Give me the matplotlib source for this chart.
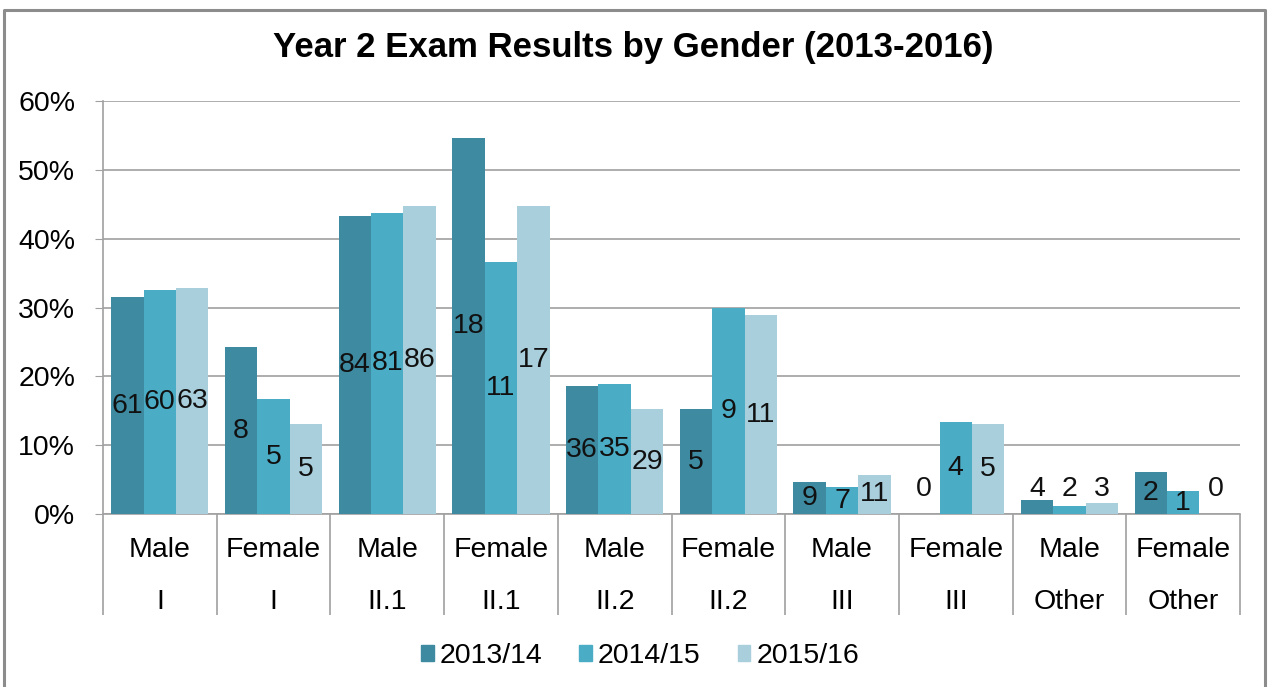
import matplotlib
matplotlib.use("Agg")
import matplotlib.pyplot as plt
import numpy as np
from matplotlib.lines import Line2D

plt.rcParams['font.family'] = ['Liberation Sans', 'DejaVu Sans']

genders = ["Male", "Female", "Male", "Female", "Male", "Female", "Male", "Female", "Male", "Female"]
classes = ["I", "I", "II.1", "II.1", "II.2", "II.2", "III", "III", "Other", "Other"]
years = ["2013/14", "2014/15", "2015/16"]

# percentage of students per class
pct_1314 = [31.5, 24.2, 43.3, 54.6, 18.6, 15.2, 4.7, 0.0, 2.1, 6.1]
pct_1415 = [32.5, 16.7, 43.8, 36.6, 18.9, 30.0, 3.9, 13.3, 1.2, 3.3]
pct_1516 = [32.8, 13.1, 44.8, 44.7, 15.2, 28.9, 5.7, 13.1, 1.6, 0.0]

# student counts shown as data labels
n_1314 = [61, 8, 84, 18, 36, 5, 9, 0, 4, 2]
n_1415 = [60, 5, 81, 11, 35, 9, 7, 4, 2, 1]
n_1516 = [63, 5, 86, 17, 29, 11, 11, 5, 3, 0]

colors = ["#3d8aa1", "#4bacc6", "#a9cfdc"]
grey = "#a0a0a0"
fs = 20.5

fig = plt.figure(figsize=(12.7, 6.87), dpi=100)
ax = fig.add_axes([103 / 1270, 1 - 514 / 687, (1240 - 103) / 1270, (514 - 101) / 687])

x = np.arange(len(genders))
w = 0.285
for i, (pct, cnt) in enumerate(zip([pct_1314, pct_1415, pct_1516], [n_1314, n_1415, n_1516])):
    xs = x + (i - 1) * w
    ax.bar(xs, pct, width=w, color=colors[i], zorder=3, label=years[i])
    for xi, v, n in zip(xs, pct, cnt):
        ly = v / 2 if v / 2 >= 1.5 else 3.7
        ax.text(xi, ly, str(n), ha="center", va="center", fontsize=fs, color="#111111", zorder=4)

ax.set_xlim(-0.5, len(genders) - 0.5)
ax.set_ylim(0, 60)
ax.set_yticks(range(0, 61, 10))
ax.set_yticklabels([f"{t}%" for t in range(0, 61, 10)], fontsize=fs)
ax.yaxis.grid(True, color=grey, linewidth=1.2, zorder=0)
ax.tick_params(axis="y", length=6, color=grey, pad=14)

# category separators as long minor ticks
ax.set_xticks([])
ax.set_xticks(np.arange(-0.5, len(genders)), minor=True)
ax.tick_params(axis="x", which="minor", length=73, color=grey, width=1.2)

for s in ["top", "right"]:
    ax.spines[s].set_visible(False)
for s in ["left", "bottom"]:
    ax.spines[s].set_color(grey)
    ax.spines[s].set_linewidth(1.2)

for xi, g, c in zip(x, genders, classes):
    ax.annotate(g, (xi, 0), xycoords=("data", "axes fraction"), xytext=(0, -26),
                textcoords="offset points", ha="center", va="center", fontsize=fs)
    ax.annotate(c, (xi, 0), xycoords=("data", "axes fraction"), xytext=(0, -63.5),
                textcoords="offset points", ha="center", va="center", fontsize=fs)

fig.text(633 / 1270, 1 - 48 / 687, "Year 2 Exam Results by Gender (2013-2016)",
         ha="center", va="center", fontsize=25, fontweight="bold")

handles = [plt.Rectangle((0, 0), 1, 1, color=c) for c in colors]
fig.legend(handles, years, loc="center", bbox_to_anchor=(640 / 1270, 1 - 656 / 687), ncol=3,
           frameon=False, fontsize=fs, handlelength=0.45, handleheight=0.45, handletextpad=0.2,
           columnspacing=1.3)

# chart border (bottom edge outside the picture)
border = Line2D([4 / 1270, 4 / 1270, 1265 / 1270, 1265 / 1270], [0, 1 - 10 / 687, 1 - 10 / 687, 0],
                transform=fig.transFigure, color="#8c8c8c", linewidth=2.2)
fig.add_artist(border)

fig.savefig("out.png", dpi=100)
